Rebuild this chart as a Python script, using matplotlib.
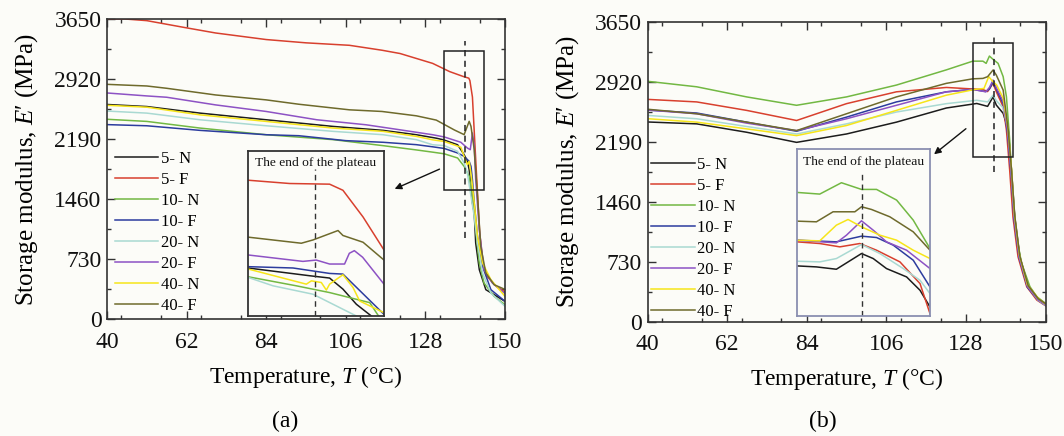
import matplotlib
matplotlib.use("Agg")
import matplotlib.pyplot as plt
from matplotlib.ticker import MultipleLocator
from matplotlib.patches import Rectangle

plt.rcParams['font.family'] = ['Liberation Serif', 'DejaVu Serif']
plt.rcParams['mathtext.fontset'] = 'custom'
plt.rcParams['mathtext.rm'] = 'Liberation Serif'
plt.rcParams['mathtext.it'] = 'Liberation Serif:italic'
plt.rcParams['mathtext.bf'] = 'Liberation Serif:bold'

labels = ["5- N", "5- F", "10- N", "10- F", "20- N", "20- F", "40- N", "40- F"]
colors = ["#1c1c1c", "#d8402e", "#72b843", "#2c3c9e", "#a9d9d2", "#8d52c4", "#f6e51a", "#6e6a2c"]

x_ticks = [40, 62, 84, 106, 128, 150]
y_ticks = [0, 730, 1460, 2190, 2920, 3650]

# ---------------- panel (a) main curves ----------------
a_5N_T = [40, 51, 65.7, 84, 102.5, 116.3, 125.5, 131, 133, 136.9, 138.7, 139.6, 140.1, 141, 141.5, 141.9, 142.9, 144.7, 150]
a_5N_E = [2610, 2585, 2505, 2424, 2343, 2295, 2242, 2200, 2180, 2120, 2000, 1918, 1817, 1411, 1290, 925, 600, 357, 215]
a_5F_T = [40, 45, 51, 56, 61, 70, 84, 95, 107, 116, 121, 125.5, 130, 134.7, 138.5, 140, 140.3, 141, 142, 143, 144, 145, 147.5, 150]
a_5F_E = [3650, 3650, 3630, 3590, 3550, 3480, 3400, 3360, 3330, 3270, 3230, 3170, 3110, 3010, 2950, 2930, 2900, 2700, 1860, 1050, 650, 520, 400, 330]
a_10N_T = [40, 51, 65.7, 84, 102.5, 116.3, 125.5, 130, 133.2, 136.9, 138.7, 140.1, 141, 141.9, 142.9, 144.2, 147, 150]
a_10N_E = [2430, 2404, 2323, 2242, 2182, 2109, 2057, 2030, 2010, 1959, 1857, 1736, 1492, 1087, 681, 438, 276, 174]
a_10F_T = [40, 51, 65.7, 84, 93, 106, 116.3, 125.5, 130, 133.2, 136.9, 138.7, 140.1, 140.6, 141, 141.5, 142.4, 143.8, 146.1, 150]
a_10F_E = [2365, 2351, 2295, 2242, 2230, 2170, 2150, 2121, 2095, 2075, 2020, 1979, 1918, 1857, 1695, 1411, 1006, 640, 357, 215]
a_20N_T = [40, 51, 65.7, 84, 102.5, 116.3, 125.5, 130, 133.2, 136.9, 138.7, 139.6, 140.6, 141.5, 142.4, 143.8, 146.1, 150]
a_20N_E = [2530, 2505, 2424, 2351, 2283, 2242, 2182, 2120, 2110, 2040, 1898, 1776, 1492, 1249, 925, 559, 316, 154]
a_20F_T = [40, 51, 56.5, 70, 84, 98, 111.6, 120.8, 130, 133.2, 137.8, 139.6, 140.4, 141, 141.5, 141.9, 142.9, 144.2, 146.5, 150]
a_20F_E = [2750, 2714, 2698, 2605, 2525, 2424, 2363, 2303, 2242, 2215, 2150, 2080, 2060, 2263, 2101, 1695, 1087, 600, 438, 310]
a_40N_T = [40, 51, 65.7, 84, 102.5, 116.3, 125.5, 130, 133.2, 137.8, 138.7, 139.6, 140.1, 140.7, 141.5, 142.4, 143.8, 146.1, 150]
a_40N_E = [2600, 2577, 2484, 2404, 2323, 2283, 2222, 2180, 2160, 2090, 1979, 1878, 1918, 1736, 1411, 1006, 681, 478, 276]
a_40F_T = [40, 51, 56.5, 70, 84, 93, 107, 116, 125.5, 131, 133.5, 136, 138.7, 140.1, 140.6, 141.5, 142.4, 143.3, 144.7, 147, 150]
a_40F_E = [2855, 2835, 2807, 2726, 2666, 2613, 2545, 2525, 2472, 2420, 2360, 2300, 2243, 2405, 2344, 2060, 1492, 884, 559, 417, 360]

# ---------------- panel (b) main curves ----------------
b_5N_T = [40, 53.6, 67.4, 81.2, 95, 108.8, 122.6, 131, 134, 135.5, 136.4, 138.3, 139.7, 140.6, 141.5, 142.9, 145.2, 148, 150]
b_5N_E = [2430, 2407, 2305, 2182, 2284, 2428, 2600, 2655, 2620, 2735, 2636, 2535, 2332, 1845, 1277, 791, 426, 263, 205]
b_5F_T = [40, 53.6, 67.4, 81.2, 95, 108.8, 122.6, 127.3, 132.7, 134, 135.5, 136.4, 138.3, 139.2, 140.1, 141, 142.4, 144.8, 147.6, 150]
b_5F_E = [2705, 2674, 2571, 2448, 2653, 2797, 2850, 2838, 2825, 2800, 2900, 2798, 2616, 2332, 1845, 1277, 791, 426, 263, 195]
b_10N_T = [40, 53.6, 67.4, 81.2, 95, 108.8, 122.6, 129.9, 132.7, 133.6, 134.5, 135.5, 136.9, 138.3, 139.2, 140.1, 141, 142, 143.4, 145.7, 147.6, 150]
b_10N_E = [2925, 2858, 2735, 2633, 2735, 2879, 3064, 3170, 3170, 3143, 3232, 3192, 3143, 2981, 2737, 2210, 1521, 1034, 709, 426, 304, 223]
b_10F_T = [40, 53.6, 67.4, 81.2, 95, 108.8, 122.6, 129.9, 133.5, 134.5, 135.5, 136.4, 138.3, 139.5, 140.5, 141.3, 142.7, 145, 148, 150]
b_10F_E = [2575, 2539, 2428, 2317, 2489, 2674, 2797, 2826, 2800, 2830, 2920, 2830, 2650, 2300, 1800, 1250, 780, 420, 260, 200]
b_20N_T = [40, 53.6, 67.4, 81.2, 95, 108.8, 122.6, 131, 134, 135.5, 136.4, 138.3, 139.6, 140.5, 141.4, 142.8, 145.1, 148, 150]
b_20N_E = [2510, 2469, 2375, 2284, 2407, 2551, 2653, 2694, 2674, 2756, 2690, 2600, 2350, 1850, 1280, 790, 430, 260, 200]
b_20F_T = [40, 53.6, 67.4, 81.2, 95, 108.8, 122.6, 129.9, 133.5, 134.5, 135.5, 136.4, 138.3, 139.5, 140.5, 141.3, 142.7, 145, 148, 150]
b_20F_E = [2575, 2530, 2416, 2325, 2469, 2633, 2797, 2826, 2797, 2850, 2940, 2850, 2680, 2320, 1820, 1270, 790, 430, 265, 205]
b_40N_T = [40, 53.6, 67.4, 81.2, 95, 108.8, 122.6, 130.5, 133, 134.3, 135.5, 136.5, 138.3, 139.6, 140.6, 141.4, 142.8, 145, 148, 150]
b_40N_E = [2470, 2428, 2346, 2264, 2387, 2571, 2756, 2826, 2838, 2981, 2920, 2880, 2720, 2360, 1860, 1300, 810, 450, 285, 215]
b_40F_T = [40, 53.6, 67.4, 81.2, 95, 108.8, 122.6, 129.9, 132.7, 134, 135.5, 136.4, 138.3, 139.7, 140.6, 141.5, 142.9, 145.2, 148, 150]
b_40F_E = [2585, 2530, 2428, 2325, 2530, 2735, 2900, 2955, 2960, 2981, 3062, 3001, 2818, 2332, 1850, 1290, 800, 440, 280, 220]

# ---------------- inset (a) curves (inset units 0..10) ----------------
ia_5N_u = [0, 4.53, 6.0, 6.98, 7.97, 9.07]
ia_5N_v = [2.91, 2.44, 2.30, 1.63, 0.71, 0.0]
ia_5F_u = [0, 3.06, 6.0, 6.98, 8.46, 10]
ia_5F_v = [8.23, 8.03, 7.99, 7.62, 6.0, 4.0]
ia_10N_u = [0, 3.55, 6.0, 8.46, 8.95, 9.6]
ia_10N_v = [2.38, 1.83, 1.42, 0.91, 0.81, 0.0]
ia_10F_u = [0, 3.31, 6.0, 6.98, 10]
ia_10F_v = [2.99, 2.91, 2.58, 2.54, 0.1]
ia_20N_u = [0, 1.84, 4.78, 7.97]
ia_20N_v = [2.34, 1.83, 1.32, 0.0]
ia_20F_u = [0, 4.04, 5.02, 6.0, 7.1, 7.45, 7.82, 8.43, 10]
ia_20F_v = [3.70, 3.31, 3.39, 3.15, 3.15, 3.80, 3.96, 3.56, 1.93]
ia_40N_u = [0, 4.29, 4.66, 5.39, 5.76, 6.0, 6.98, 7.72, 8.21, 10]
ia_40N_v = [2.85, 1.93, 2.13, 2.03, 1.57, 1.93, 2.50, 1.73, 0.91, 0.2]
ia_40F_u = [0, 3.92, 4.78, 6.62, 6.98, 8.46, 10]
ia_40F_v = [4.78, 4.41, 4.61, 5.18, 4.88, 4.47, 3.39]

# ---------------- inset (b) curves (inset units 0..10) ----------------
ib_5N_u = [0, 1.46, 2.96, 4.85, 5.73, 6.73, 8.24, 9.25, 10]
ib_5N_v = [3.0, 2.94, 2.8, 3.74, 3.44, 2.84, 2.34, 1.54, 0.54]
ib_5F_u = [0, 1.71, 3.22, 4.72, 5.98, 7.74, 9.25, 10]
ib_5F_v = [4.44, 4.34, 4.14, 4.34, 3.94, 3.24, 1.94, 0.14]
ib_10N_u = [0, 1.71, 3.34, 4.85, 5.98, 7.49, 8.74, 10]
ib_10N_v = [7.4, 7.3, 7.98, 7.58, 7.58, 6.94, 5.74, 4.04]
ib_10F_u = [0, 2.96, 4.85, 5.98, 7.24, 8.74, 10]
ib_10F_v = [4.54, 4.44, 4.78, 4.7, 4.24, 3.34, 1.74]
ib_20N_u = [0, 1.71, 2.96, 4.85, 6.23, 7.99, 9.25, 10]
ib_20N_v = [3.28, 3.24, 3.44, 4.28, 3.74, 2.84, 2.14, 1.34]
ib_20F_u = [0, 2.96, 3.72, 4.85, 5.73, 6.73, 8.24, 10]
ib_20F_v = [4.54, 4.38, 4.84, 5.7, 5.14, 4.44, 3.94, 2.84]
ib_40N_u = [0, 1.71, 2.96, 3.84, 4.85, 6.23, 7.49, 8.74, 10]
ib_40N_v = [4.54, 4.5, 5.44, 5.78, 5.34, 4.84, 4.54, 3.94, 3.44]
ib_40F_u = [0, 1.46, 2.71, 4.35, 4.85, 5.6, 6.98, 8.74, 10]
ib_40F_v = [5.68, 5.64, 6.24, 6.24, 6.54, 6.38, 5.94, 5.04, 3.94]

a_series = [(a_5N_T, a_5N_E), (a_5F_T, a_5F_E), (a_10N_T, a_10N_E), (a_10F_T, a_10F_E),
            (a_20N_T, a_20N_E), (a_20F_T, a_20F_E), (a_40N_T, a_40N_E), (a_40F_T, a_40F_E)]
b_series = [(b_5N_T, b_5N_E), (b_5F_T, b_5F_E), (b_10N_T, b_10N_E), (b_10F_T, b_10F_E),
            (b_20N_T, b_20N_E), (b_20F_T, b_20F_E), (b_40N_T, b_40N_E), (b_40F_T, b_40F_E)]
ia_series = [(ia_5N_u, ia_5N_v), (ia_5F_u, ia_5F_v), (ia_10N_u, ia_10N_v), (ia_10F_u, ia_10F_v),
             (ia_20N_u, ia_20N_v), (ia_20F_u, ia_20F_v), (ia_40N_u, ia_40N_v), (ia_40F_u, ia_40F_v)]
ib_series = [(ib_5N_u, ib_5N_v), (ib_5F_u, ib_5F_v), (ib_10N_u, ib_10N_v), (ib_10F_u, ib_10F_v),
             (ib_20N_u, ib_20N_v), (ib_20F_u, ib_20F_v), (ib_40N_u, ib_40N_v), (ib_40F_u, ib_40F_v)]

# annotation geometry (data units)
a_box = (133.1, 1569, 144.2, 3261)
b_box = (129.9, 2008, 140.9, 3387)
a_dash = (139.0, 985, 3382)
b_dash = (135.8, 1825, 3476)
a_arrow = ((132.6, 1837), (118.8, 1569))
b_arrow = ((128.6, 2369), (118.6, 2016))

BG = "#fcfcf8"
fig = plt.figure(figsize=(10.64, 4.36), dpi=100, facecolor=BG)

ax_a = fig.add_axes([107/1064, 1-319/436, 398/1064, 300/436])
ax_b = fig.add_axes([647.5/1064, 1-321.7/436, 398/1064, 300/436])
in_a = fig.add_axes([248/1064, 1-316/436, 136/1064, 165/436])
in_b = fig.add_axes([797/1064, 1-316/436, 133/1064, 167/436])


def style_main(ax):
    ax.set_facecolor(BG)
    ax.set_xlim(40, 150)
    ax.set_ylim(0, 3650)
    ax.set_xticks(x_ticks)
    ax.set_yticks(y_ticks)
    ax.xaxis.set_minor_locator(MultipleLocator(11))
    ax.yaxis.set_minor_locator(MultipleLocator(365))
    ax.tick_params(which='both', direction='in', top=True, right=True, width=1.0, colors='#333333',
                   labelcolor='#111111', labelsize=17)
    ax.tick_params(which='major', length=6)
    ax.tick_params(which='minor', length=3)
    ax.tick_params(axis='x', pad=9)
    ax.tick_params(axis='y', pad=4)
    for s in ax.spines.values():
        s.set_linewidth(1.2)
        s.set_color('#333333')
    ax.set_xlabel(r"Temperature, $T$ (°C)", fontsize=17, labelpad=8)
    ax.set_ylabel("Storage modulus, $E$\u2032 (MPa)", fontsize=18, labelpad=10)


def draw(ax, series, box, dash, arrow, leg_anchor):
    for (t, e), c, lab in zip(series, colors, labels):
        ax.plot(t, e, color=c, lw=1.1, label=lab)
    x0, y0, x1, y1 = box
    ax.add_patch(Rectangle((x0, y0), x1 - x0, y1 - y0, fill=False, ec='#222222', lw=1.1, zorder=5))
    ax.plot([dash[0], dash[0]], [dash[1], dash[2]], ls=(0, (4, 3)), color='#222222', lw=1.1, zorder=5)
    ax.annotate("", xy=arrow[1], xytext=arrow[0],
                arrowprops=dict(arrowstyle='-|>', color='#111111', lw=1.0, mutation_scale=10))
    ax.legend(loc='upper left', bbox_to_anchor=leg_anchor, frameon=False, fontsize=12,
              handlelength=2.6, handletextpad=0.15, labelspacing=0.3, borderpad=0, borderaxespad=0)


def draw_inset(ax, series, dash_u, dash_top, edge):
    ax.set_facecolor(BG)
    for (u, v), c in zip(series, colors):
        ax.plot(u, v, color=c, lw=1.1)
    ax.set_xlim(0, 10)
    ax.set_ylim(0, 10)
    ax.set_xticks([])
    ax.set_yticks([])
    for s in ax.spines.values():
        s.set_linewidth(1.3)
        s.set_color(edge)
    ax.plot([dash_u, dash_u], [0, dash_top], ls=(0, (4, 3)), color='#333333', lw=1.0)
    ax.text(5, 9.25, "The end of the plateau", ha='center', va='center', fontsize=9.7, color='#111111')


style_main(ax_a)
style_main(ax_b)
draw(ax_a, a_series, a_box, a_dash, a_arrow, (0.02, 0.56))
draw(ax_b, b_series, b_box, b_dash, b_arrow, (0.01, 0.55))
draw_inset(in_a, ia_series, 4.9, 8.9, '#333333')
draw_inset(in_b, ib_series, 4.86, 8.55, '#8a8fb0')

fig.text(285/1064, 1-421/436, "(a)", ha='center', va='center', fontsize=17)
fig.text(823/1064, 1-421/436, "(b)", ha='center', va='center', fontsize=17)

fig.savefig("out.png", dpi=100, facecolor=BG)
